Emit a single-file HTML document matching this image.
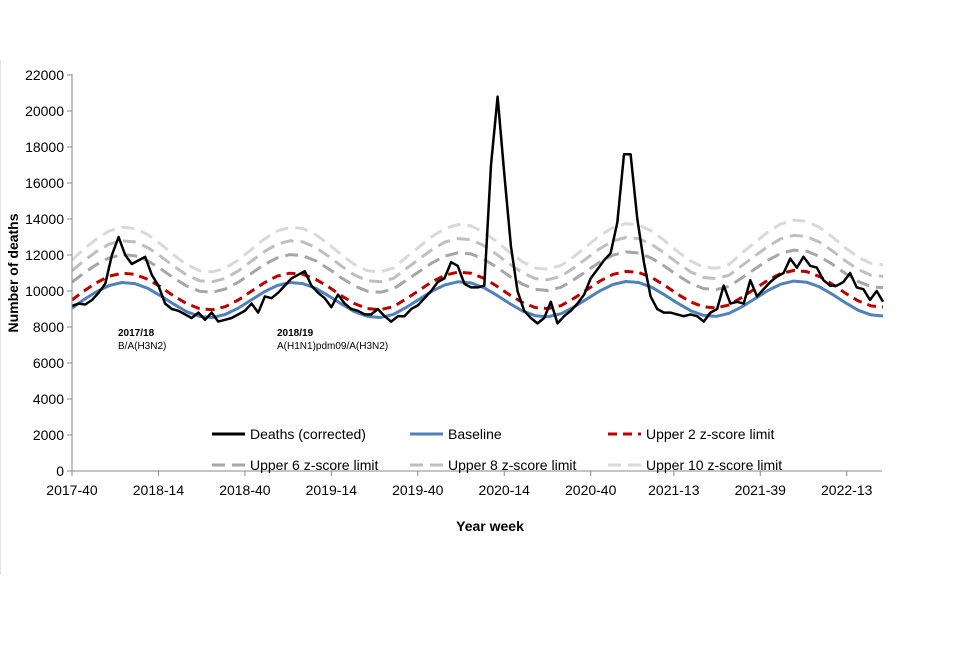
<!DOCTYPE html>
<html><head><meta charset="utf-8"><style>
body{margin:0;background:#fff;font-family:"Liberation Sans",Arial,sans-serif}
svg text{font-family:"Liberation Sans",Arial,sans-serif}
</style></head><body>
<svg id="chart" width="960" height="640" xmlns="http://www.w3.org/2000/svg">
<line x1="0.5" y1="60" x2="0.5" y2="575" stroke="#e4e4e4"/>
<g id="grid"></g>
<g id="series"></g>
<g id="axes"></g>
<text x="118" y="336" font-size="10" font-weight="bold">2017/18</text>
<text x="118" y="349" font-size="10">B/A(H3N2)</text>
<text x="277" y="336" font-size="10" font-weight="bold">2018/19</text>
<text x="277" y="349" font-size="10">A(H1N1)pdm09/A(H3N2)</text>
<text x="490" y="531" font-size="14" font-weight="bold" text-anchor="middle">Year week</text>
<text transform="translate(18,273) rotate(-90)" font-size="14" font-weight="bold" text-anchor="middle">Number of deaths</text>
<g id="legend"></g>
</svg>
<script>
const xTickLabels=["2017-40","2018-14","2018-40","2019-14","2019-40","2020-14","2020-40","2021-13","2021-39","2022-13"];
const xTickWeeks=[0,26,52,78,104,130,156,181,207,233];
const yTicks=[0,2000,4000,6000,8000,10000,12000,14000,16000,18000,20000,22000];
const deathsStep=2;
const deaths=[9170,9300,9250,9500,9900,10400,12000,13000,12000,11500,11700,11900,10900,10300,9300,9000,8900,8700,8500,8800,8400,8800,8300,8400,8500,8700,8900,
9300,8800,9700,9600,9900,10300,10700,10900,11100,10300,9900,9600,9100,9800,9300,9000,8900,8700,8700,9000,8600,8300,8600,8600,9000,9200,
9600,10000,10500,10700,11600,11400,10400,10200,10200,10300,17000,20800,16500,12500,10000,8900,8500,8200,8500,9400,8200,8600,8900,9300,9800,10700,
11200,11700,12100,13800,17600,17600,14000,11600,9700,9000,8800,8800,8700,8600,8700,8600,8300,8800,9000,10300,9300,9400,9300,10600,9700,10100,
10500,10800,11000,11800,11300,11900,11400,11300,10600,10300,10300,10500,11000,10200,10100,9500,10000,9400];
const smoothStart=-0.5;
const smoothStep=3.885;
const baseline=[9050,9500,9950,10300,10470,10410,10150,9730,9270,8850,8590,8530,8700,
9050,9500,9950,10300,10470,10410,10150,9730,9270,8850,8590,8530,8700,
9090,9540,9990,10340,10510,10450,10190,9770,9310,8890,8630,8570,8740,
9110,9560,10010,10360,10530,10470,10210,9790,9330,8910,8650,8590,8760,
9130,9580,10030,10380,10550,10490,10230,9810,9350,8930,8670,8610];
const upper2=[9500,9975,10450,10820,10990,10930,10650,10220,9730,9300,9020,8960,9130,
9500,9975,10450,10820,10990,10930,10650,10220,9730,9300,9020,8960,9130,
9560,10035,10510,10880,11050,10990,10710,10280,9790,9360,9080,9020,9190,
9600,10075,10550,10920,11090,11030,10750,10320,9830,9400,9120,9060,9230,
9650,10125,10600,10970,11140,11080,10800,10370,9880,9450,9170,9110];
const upper6=[10490,10975,11460,11840,12020,11960,11670,11230,10720,10280,9990,9930,10110,
10490,10975,11460,11840,12020,11960,11670,11230,10720,10280,9990,9930,10110,
10590,11075,11560,11940,12120,12060,11770,11330,10820,10380,10090,10030,10210,
10640,11125,11610,11990,12170,12110,11820,11380,10870,10430,10140,10080,10260,
10740,11225,11710,12090,12270,12210,11920,11480,10970,10530,10240,10180];
const upper8=[11120,11650,12180,12600,12790,12730,12410,11920,11380,10890,10570,10510,10700,
11120,11650,12180,12600,12790,12730,12410,11920,11380,10890,10570,10510,10700,
11240,11770,12300,12720,12910,12850,12530,12040,11500,11010,10690,10630,10820,
11300,11830,12360,12780,12970,12910,12590,12100,11560,11070,10750,10690,10880,
11420,11950,12480,12900,13090,13030,12710,12220,11680,11190,10870,10810];
const upper10=[11720,12300,12880,13330,13540,13470,13130,12600,12000,11470,11130,11060,11270,
11720,12300,12880,13330,13540,13470,13130,12600,12000,11470,11130,11060,11270,
11870,12450,13030,13480,13690,13620,13280,12750,12150,11620,11280,11210,11420,
11920,12500,13080,13530,13740,13670,13330,12800,12200,11670,11330,11260,11470,
12120,12700,13280,13730,13940,13870,13530,13000,12400,11870,11530,11460];

const X0=72,PXW=3.325,Y0=471,YMAX=22000,YTOP=75,XEND=883;
const xs=w=>Math.min(XEND,Math.max(X0,X0+w*PXW));
const ys=v=>Y0-(v/YMAX)*(Y0-YTOP);
const NS="http://www.w3.org/2000/svg";
function mk(tag,attrs,parent){const e=document.createElementNS(NS,tag);for(const k in attrs)e.setAttribute(k,attrs[k]);parent.appendChild(e);return e;}
const axes=document.getElementById('axes');
const ax=mk('line',{x1:X0,y1:YTOP-1,x2:X0,y2:Y0,stroke:'#888','stroke-width':1},axes);


const bx=mk('line',{x1:X0,y1:Y0,x2:882,y2:Y0,stroke:'#888','stroke-width':1},axes);


yTicks.forEach(v=>{
 const t=mk('line',{x1:X0-5,y1:ys(v),x2:X0,y2:ys(v),stroke:'#888'},axes);
 
 
 const l=mk('text',{x:X0-8,y:ys(v)+5,'font-size':14,'text-anchor':'end',fill:'#000'},axes);
 l.textContent=v;
 
 
});
xTickWeeks.forEach((w,i)=>{
 const t=mk('line',{x1:xs(w),y1:Y0,x2:xs(w),y2:Y0+5,stroke:'#888'},axes);
 
 
 const l=mk('text',{x:xs(w),y:Y0+24,'font-size':14,'text-anchor':'middle',fill:'#000'},axes);
 l.textContent=xTickLabels[i];
 
 
});
const ser=document.getElementById('series');
function path(arr,start,step){return arr.map((v,i)=>(i?'L':'M')+xs(start+i*step).toFixed(1)+','+ys(v).toFixed(1)).join(' ');}
const defs=[
 {arr:upper10,start:smoothStart,step:smoothStep,stroke:'#d9d9d9',w:3,dash:'13 7',name:'upper-10-z-line',label:'Upper 10 z-score limit'},
 {arr:upper8,start:smoothStart,step:smoothStep,stroke:'#bfbfbf',w:3,dash:'13 7',name:'upper-8-z-line',label:'Upper 8 z-score limit'},
 {arr:upper6,start:smoothStart,step:smoothStep,stroke:'#a6a6a6',w:3,dash:'13 7',name:'upper-6-z-line',label:'Upper 6 z-score limit'},
 {arr:upper2,start:smoothStart,step:smoothStep,stroke:'#c00000',w:3,dash:'9 6',name:'upper-2-z-line',label:'Upper 2 z-score limit'},
 {arr:baseline,start:smoothStart,step:smoothStep,stroke:'#4f81bd',w:3,dash:'',name:'baseline-line',label:'Baseline'},
 {arr:deaths,start:0,step:deathsStep,stroke:'#000',w:2.5,dash:'',name:'deaths-line',label:'Deaths (corrected)'}
];
defs.forEach(d=>{
 const p=mk('path',{d:path(d.arr,d.start,d.step),fill:'none',stroke:d.stroke,'stroke-width':d.w,'stroke-dasharray':d.dash,'stroke-linejoin':'round'},ser);
 
 
});
const leg=document.getElementById('legend');
const order=[5,4,3,2,1,0];
const pos=[[212,434],[410,434],[608,434],[212,465],[410,465],[608,465]];
order.forEach((di,i)=>{
 const d=defs[di];const [lx,ly]=pos[i];
 const g=mk('g',{},leg);
 
 
 mk('line',{x1:lx,y1:ly,x2:lx+33,y2:ly,stroke:d.stroke,'stroke-width':3,'stroke-dasharray':d.dash},g);
 const t=mk('text',{x:lx+38,y:ly+5,'font-size':14,fill:'#000'},g);
 t.textContent=d.label;
});
</script>
</body></html>
